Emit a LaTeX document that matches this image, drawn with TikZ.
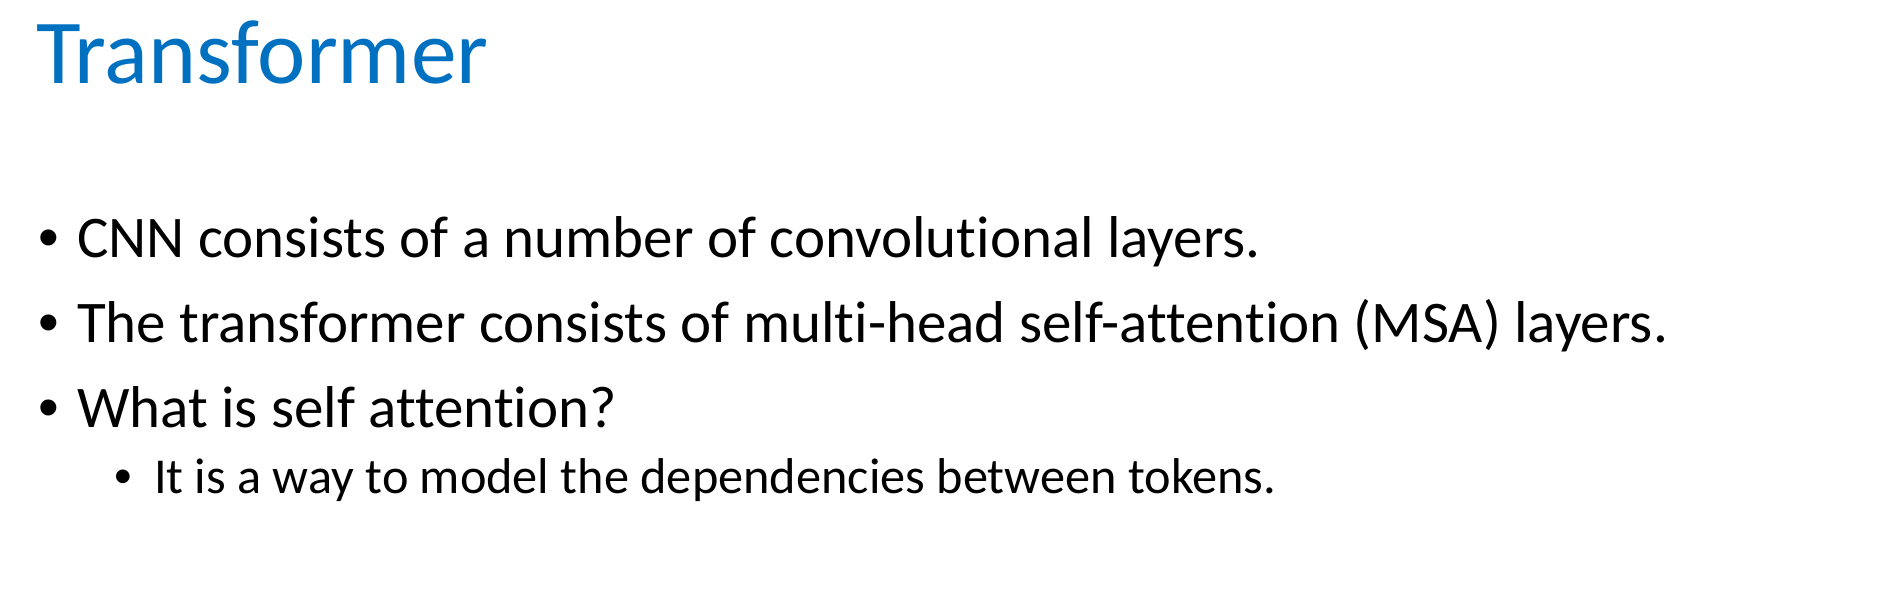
\documentclass[tikz,border=0pt]{standalone}
\usepackage{fontspec}
\setmainfont{Carlito}[Ligatures={NoCommon}]
\newfontfamily\bulletfont{Liberation Sans}
\definecolor{titleblue}{RGB}{0,112,192}
\begin{document}
\begin{tikzpicture}[x=1pt,y=-1pt,
  txt/.style={anchor=base west,inner sep=0pt,outer sep=0pt},
  ttl/.style={txt,text=titleblue,font=\fontsize{91.5}{91.5}\selectfont},
  lvlone/.style={txt,font=\fontsize{59}{59}\selectfont},
  lvltwo/.style={txt,font=\fontsize{50.3}{50.3}\selectfont},
  bulone/.style={txt,font=\bulletfont\fontsize{59}{59}\selectfont},
  bultwo/.style={txt,font=\bulletfont\fontsize{50.3}{50.3}\selectfont}]
\useasboundingbox[fill=white] (0,0) rectangle (1896,590);
\node[ttl] (title) at (36,83) {Transformer};
\node[bulone] (b1) at (38,257) {•};
\node[lvlone] (t1) at (77,257) {CNN consists of a number of convolutional layers.};
\node[bulone] (b2) at (38,342) {•};
\node[lvlone] (t2) at (77,342) {The transformer consists of multi-head self-attention (MSA) layers.};
\node[bulone] (b3) at (38,427) {•};
\node[lvlone] (t3) at (77,427) {What is self attention?};
\node[bultwo] (b4) at (114.5,493) {•};
\node[lvltwo] (t4) at (154,493) {It is a way to model the dependencies between tokens.};
\end{tikzpicture}
\end{document}
